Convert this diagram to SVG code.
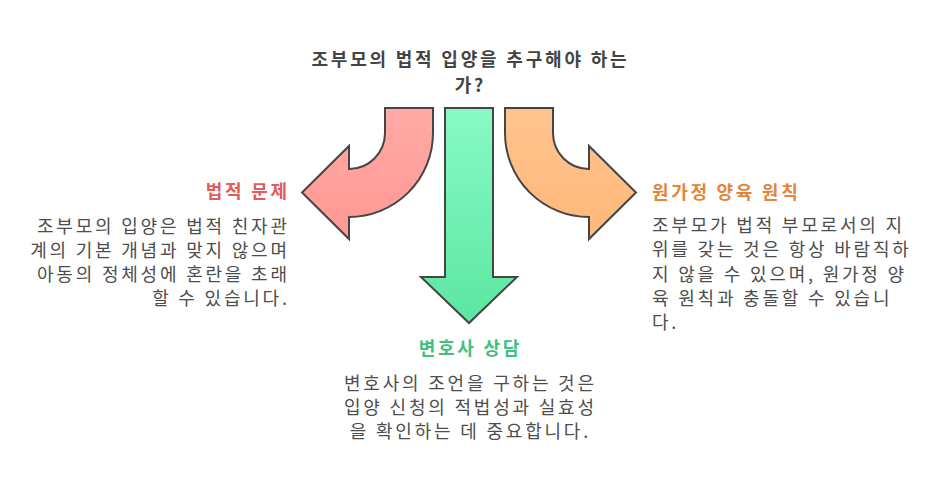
<svg xmlns="http://www.w3.org/2000/svg" width="938" height="494" viewBox="0 0 938 494">
<defs>
<linearGradient id="gr" x1="0" y1="0" x2="0" y2="1"><stop offset="0" stop-color="#ffaaa6"/><stop offset="1" stop-color="#ff9893"/></linearGradient>
<linearGradient id="gg" x1="0" y1="0" x2="0" y2="1"><stop offset="0" stop-color="#88fac6"/><stop offset="1" stop-color="#5ce6a2"/></linearGradient>
<linearGradient id="go" x1="0" y1="0" x2="0" y2="1"><stop offset="0" stop-color="#ffc48e"/><stop offset="1" stop-color="#ffb87a"/></linearGradient>
<style>
.arr{stroke:#454545;stroke-width:2;stroke-linejoin:miter}
text{font-family:"Noto Sans CJK KR","Noto Sans",sans-serif}
.h{font-size:18px;font-weight:bold;letter-spacing:2.7px}
.t{font-size:18px;fill:#444;font-weight:bold;letter-spacing:2.8px}
.b{font-size:18px;fill:#4d4d4d;letter-spacing:2.8px}
</style>
</defs>
<rect width="938" height="494" fill="#fff"/>
<g id="title">
<text class="t" x="470.4" y="66" text-anchor="middle">조부모의 법적 입양을 추구해야 하는</text>
<text class="t" x="470.4" y="92" text-anchor="middle">가?</text>
</g>
<g id="connectors">
<path id="arrow-left" class="arr" fill="url(#gr)" d="M385 108 L433 108 L433 133 A84 84 0 0 1 349 217 L349 239 L302 192.5 L349 146 L349 169 A36 36 0 0 0 385 133 Z"/>
<path id="arrow-down" class="arr" fill="url(#gg)" d="M445 108 L493 108 L493 277 L517 277 L469 323 L421 277 L445 277 Z"/>
<path id="arrow-right" class="arr" fill="url(#go)" d="M553 108 L505 108 L505 133 A84 84 0 0 0 589 217 L589 239 L636 192.5 L589 146 L589 169 A36 36 0 0 1 553 133 Z"/>
</g>
<g id="node-legal" text-anchor="end">
<text class="h" x="289.7" y="198" fill="#e35b5b">법적 문제</text>
<text class="b" x="289.8" y="233">조부모의 입양은 법적 친자관</text>
<text class="b" x="289.8" y="257">계의 기본 개념과 맞지 않으며</text>
<text class="b" x="289.8" y="281">아동의 정체성에 혼란을 초래</text>
<text class="b" x="289.8" y="305">할 수 있습니다.</text>
</g>
<g id="node-family">
<text class="h" x="652" y="199" fill="#e5853a">원가정 양육 원칙</text>
<text class="b" x="652" y="232">조부모가 법적 부모로서의 지</text>
<text class="b" x="652" y="256">위를 갖는 것은 항상 바람직하</text>
<text class="b" x="652" y="281">지 않을 수 있으며, 원가정 양</text>
<text class="b" x="652" y="305">육 원칙과 충돌할 수 있습니</text>
<text class="b" x="652" y="329">다.</text>
</g>
<g id="node-lawyer" text-anchor="middle">
<text class="h" x="470.4" y="355" fill="#3cc27f">변호사 상담</text>
<text class="b" x="470.4" y="390">변호사의 조언을 구하는 것은</text>
<text class="b" x="470.4" y="414">입양 신청의 적법성과 실효성</text>
<text class="b" x="470.4" y="438">을 확인하는 데 중요합니다.</text>
</g>
</svg>
